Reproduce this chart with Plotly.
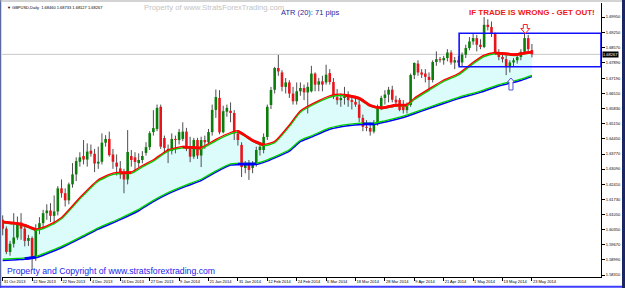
import plotly.graph_objects as go

# ---------------- data ----------------
TICK_LABELS = ["31 Oct 2013", "12 Nov 2013", "22 Nov 2013", "4 Dec 2013", "16 Dec 2013",
               "27 Dec 2013", "9 Jan 2014", "21 Jan 2014", "31 Jan 2014", "12 Feb 2014",
               "24 Feb 2014", "6 Mar 2014", "18 Mar 2014", "28 Mar 2014", "9 Apr 2014",
               "21 Apr 2014", "1 May 2014", "13 May 2014", "23 May 2014"]
BARS_PER_LABEL = 8

OPEN = [1.6080, 1.6040, 1.5935, 1.5972, 1.6000, 1.6068, 1.6040, 1.5985, 1.5998, 1.5912,
        1.6040, 1.6065, 1.6110, 1.6122, 1.6098, 1.6118, 1.6222, 1.6200, 1.6168, 1.6240,
        1.6285, 1.6342, 1.6368, 1.6352, 1.6392, 1.6378, 1.6334, 1.6342, 1.6428, 1.6445,
        1.6375, 1.6338, 1.6312, 1.6290, 1.6262, 1.6368, 1.6362, 1.6336, 1.6350, 1.6382,
        1.6408, 1.6476, 1.6490, 1.6590, 1.6449, 1.6400, 1.6390, 1.6445, 1.6440, 1.6445,
        1.6478, 1.6400, 1.6365, 1.6440, 1.6370, 1.6440, 1.6430, 1.6476, 1.6576, 1.6630,
        1.6475, 1.6568, 1.6572, 1.6562, 1.6470, 1.6418, 1.6314, 1.6336, 1.6314, 1.6336,
        1.6395, 1.6395, 1.6454, 1.6598, 1.6667, 1.6765, 1.6745, 1.6680, 1.6700, 1.6650,
        1.6615, 1.6660, 1.6675, 1.6655, 1.6660, 1.6740, 1.6690, 1.6705, 1.6700, 1.6742,
        1.6702, 1.6634, 1.6620, 1.6630, 1.6640, 1.6620, 1.6612, 1.6600, 1.6540, 1.6500,
        1.6495, 1.6478, 1.6515, 1.6590, 1.6630, 1.6645, 1.6667, 1.6622, 1.6621, 1.6590,
        1.6575, 1.6598, 1.6733, 1.6785, 1.6745, 1.6740, 1.6725, 1.6711, 1.6792, 1.6805,
        1.6800, 1.6810, 1.6835, 1.6790, 1.6800, 1.6790, 1.6825, 1.6855, 1.6885, 1.6900,
        1.6870, 1.6860, 1.6960, 1.6950, 1.6920, 1.6835, 1.6815, 1.6805, 1.6772, 1.6790,
        1.6800, 1.6815, 1.6838, 1.6900, 1.68460]
HIGH = [1.6100, 1.6050, 1.5985, 1.6110, 1.6095, 1.6110, 1.6060, 1.6012, 1.6005, 1.6060,
        1.6092, 1.6125, 1.6150, 1.6155, 1.6190, 1.6232, 1.6262, 1.6222, 1.6248, 1.6336,
        1.6362, 1.6385, 1.6440, 1.6425, 1.6420, 1.6400, 1.6410, 1.6470, 1.6462, 1.6478,
        1.6400, 1.6375, 1.6345, 1.6310, 1.6485, 1.6395, 1.6385, 1.6380, 1.6390, 1.6430,
        1.6480, 1.6575, 1.6600, 1.6600, 1.6460, 1.6420, 1.6470, 1.6460, 1.6490, 1.6520,
        1.6495, 1.6455, 1.6450, 1.6450, 1.6455, 1.6460, 1.6490, 1.6600, 1.6668, 1.6665,
        1.6595, 1.6600, 1.6610, 1.6575, 1.6485, 1.6430, 1.6345, 1.6350, 1.6345, 1.6410,
        1.6430, 1.6470, 1.6600, 1.6680, 1.6770, 1.6824, 1.6755, 1.6720, 1.6710, 1.6680,
        1.6700, 1.6700, 1.6690, 1.6700, 1.6775, 1.6745, 1.6720, 1.6730, 1.6780, 1.6760,
        1.6720, 1.6670, 1.6650, 1.6680, 1.6660, 1.6640, 1.6640, 1.6620, 1.6555, 1.6530,
        1.6520, 1.6530, 1.6600, 1.6640, 1.6665, 1.6680, 1.6685, 1.6640, 1.6630, 1.6620,
        1.6610, 1.6740, 1.6790, 1.6800, 1.6760, 1.6760, 1.6745, 1.6800, 1.6840, 1.6815,
        1.6820, 1.6850, 1.6845, 1.6815, 1.6820, 1.6835, 1.6870, 1.6905, 1.6920, 1.6915,
        1.6895, 1.6995, 1.6985, 1.6975, 1.6925, 1.6850, 1.6835, 1.6830, 1.6800, 1.6810,
        1.6830, 1.6850, 1.6925, 1.6915, 1.68733]
LOW = [1.6010, 1.5925, 1.5918, 1.5955, 1.5990, 1.5990, 1.5960, 1.5962, 1.5858, 1.5895,
       1.6015, 1.6048, 1.6080, 1.6070, 1.6060, 1.6100, 1.6180, 1.6140, 1.6150, 1.6225,
       1.6255, 1.6320, 1.6330, 1.6320, 1.6365, 1.6295, 1.6310, 1.6330, 1.6410, 1.6365,
       1.6310, 1.6280, 1.6265, 1.6200, 1.6240, 1.6320, 1.6300, 1.6318, 1.6335, 1.6370,
       1.6395, 1.6460, 1.6480, 1.6400, 1.6380, 1.6336, 1.6375, 1.6380, 1.6420, 1.6435,
       1.6390, 1.6340, 1.6355, 1.6355, 1.6318, 1.6400, 1.6420, 1.6460, 1.6540, 1.6466,
       1.6470, 1.6545, 1.6520, 1.6440, 1.6415, 1.6273, 1.6290, 1.6260, 1.6290, 1.6320,
       1.6370, 1.6380, 1.6440, 1.6580, 1.6650, 1.6730, 1.6660, 1.6650, 1.6630, 1.6600,
       1.6600, 1.6640, 1.6620, 1.6560, 1.6655, 1.6660, 1.6660, 1.6660, 1.6690, 1.6690,
       1.6625, 1.6600, 1.6590, 1.6600, 1.6590, 1.6578, 1.6590, 1.6520, 1.6480, 1.6480,
       1.6460, 1.6470, 1.6505, 1.6575, 1.6600, 1.6610, 1.6610, 1.6595, 1.6570, 1.6560,
       1.6560, 1.6590, 1.6715, 1.6730, 1.6720, 1.6700, 1.6660, 1.6700, 1.6775, 1.6790,
       1.6780, 1.6795, 1.6780, 1.6760, 1.6775, 1.6770, 1.6810, 1.6845, 1.6870, 1.6840,
       1.6850, 1.6855, 1.6935, 1.6905, 1.6825, 1.6800, 1.6790, 1.6733, 1.6745, 1.6770,
       1.6785, 1.6800, 1.6830, 1.6840, 1.68127]
CLOSE = [1.6040, 1.5935, 1.5972, 1.6000, 1.6068, 1.6040, 1.5985, 1.5998, 1.5912, 1.6040,
         1.6065, 1.6110, 1.6122, 1.6098, 1.6118, 1.6222, 1.6200, 1.6168, 1.6240, 1.6285,
         1.6345, 1.6362, 1.6352, 1.6388, 1.6378, 1.6334, 1.6342, 1.6428, 1.6445, 1.6372,
         1.6342, 1.6320, 1.6285, 1.6262, 1.6386, 1.6350, 1.6341, 1.6350, 1.6368, 1.6408,
         1.6471, 1.6494, 1.6585, 1.6410, 1.6404, 1.6390, 1.6445, 1.6440, 1.6476, 1.6478,
         1.6400, 1.6365, 1.6440, 1.6370, 1.6440, 1.6430, 1.6476, 1.6576, 1.6634, 1.6475,
         1.6570, 1.6585, 1.6562, 1.6470, 1.6440, 1.6318, 1.6336, 1.6305, 1.6336, 1.6395,
         1.6410, 1.6454, 1.6590, 1.6666, 1.6765, 1.6750, 1.6680, 1.6700, 1.6650, 1.6615,
         1.6660, 1.6675, 1.6655, 1.6680, 1.6740, 1.6690, 1.6705, 1.6690, 1.6735, 1.6702,
         1.6634, 1.6620, 1.6630, 1.6640, 1.6620, 1.6612, 1.6600, 1.6540, 1.6500, 1.6495,
         1.6478, 1.6515, 1.6590, 1.6630, 1.6645, 1.6667, 1.6622, 1.6610, 1.6576, 1.6575,
         1.6598, 1.6733, 1.6788, 1.6745, 1.6735, 1.6725, 1.6711, 1.6792, 1.6805, 1.6800,
         1.6810, 1.6835, 1.6790, 1.6800, 1.6790, 1.6825, 1.6855, 1.6885, 1.6900, 1.6870,
         1.6860, 1.6960, 1.6950, 1.6920, 1.6835, 1.6815, 1.6805, 1.6772, 1.6790, 1.6800,
         1.6815, 1.6838, 1.6900, 1.6850, 1.68267]

# fast moving average (red / green line), read at bar positions
FAST_X = [0, 3, 6, 9, 12, 16, 21, 26, 30, 32, 35, 38, 41, 45, 49, 51, 54, 58, 62, 64,
          66, 68, 71, 74, 78, 81, 86, 90, 93, 97, 100, 103, 107, 110, 112, 116, 120, 124,
          128, 131, 134, 137, 139, 142, 144]
FAST_MA = [1.6070, 1.6065, 1.6055, 1.6036, 1.6050, 1.6088, 1.6178, 1.6258, 1.6288, 1.6292,
           1.6293, 1.6322, 1.6348, 1.6393, 1.6408, 1.6407, 1.6404, 1.6440, 1.6471, 1.6479,
           1.6460, 1.6438, 1.6418, 1.6431, 1.6505, 1.6569, 1.6615, 1.6642, 1.6643, 1.6628,
           1.6596, 1.6585, 1.6597, 1.6598, 1.6626, 1.6668, 1.6708, 1.6737, 1.6788, 1.6820,
           1.6832, 1.6829, 1.6825, 1.6832, 1.6837]
FAST_DOWN = [(0, 9), (32, 35), (49, 54), (64, 71), (93, 110), (134, 144)]

# slow moving average (blue / green line)
SLOW_X = [0, 4, 6, 9, 12, 16, 21, 26, 32, 37, 41, 45, 50, 54, 58, 62, 64, 69, 72, 78,
          81, 84, 89, 94, 98, 101, 104, 108, 112, 116, 120, 124, 130, 135, 141, 144]
SLOW_MA = [1.5899, 1.5903, 1.5905, 1.5912, 1.5930, 1.5957, 1.5998, 1.6041, 1.6084, 1.6124,
           1.6165, 1.6200, 1.6235, 1.6260, 1.6298, 1.6330, 1.6332, 1.6333, 1.6348, 1.6393,
           1.6436, 1.6456, 1.6492, 1.6508, 1.6513, 1.6513, 1.6524, 1.6540, 1.6562, 1.6585,
           1.6608, 1.6630, 1.6658, 1.6687, 1.6712, 1.6729]
SLOW_FLAT = [(6, 9), (64, 69), (98, 101)]

Y_TICKS = [1.69950, 1.69250, 1.68570, 1.67890, 1.67190, 1.66510, 1.65830, 1.65150, 1.64450,
           1.63770, 1.63090, 1.62410, 1.61730, 1.61050, 1.60350, 1.59670, 1.58990, 1.58310]
BID = 1.68267
HEADER = "▼ GBPUSD,Daily  1.68460 1.68733 1.68127 1.68267"

BOX = dict(x0=124.2, y0=1.67710, y1=1.69217)      # "get out" box
ARROW_DOWN = (142.2, 1.69614)
ARROW_UP = (138.3, 1.67200)

# ---------------- figure ----------------
W, H = 625, 288
PX_L, PX_R, PX_T, PX_B = 2, 601, 3, 277
X_RANGE = [-0.19, 162.8]
Y_RANGE = [1.58220, 1.70584]

GREEN_BODY = "#0a7d0a"
RED_BODY = "#e8141c"
WICK = "#4e4e4e"
LINE_GREEN = "#00d000"
LINE_RED = "#ff0000"
LINE_BLUE = "#0000ff"
CLOUD = "#dcfcfc"
OFF = 0.0003

fig = go.Figure()

# cloud between the averages
fig.add_trace(go.Scatter(x=SLOW_X, y=SLOW_MA, mode="lines",
                         line=dict(width=0, shape="spline", smoothing=0.6, color=CLOUD),
                         hoverinfo="skip", showlegend=False))
fig.add_trace(go.Scatter(x=FAST_X, y=FAST_MA, mode="lines", fill="tonexty", fillcolor=CLOUD,
                         line=dict(width=0, shape="spline", smoothing=0.6, color=CLOUD),
                         hoverinfo="skip", showlegend=False))

# candles
n = len(OPEN)
wx, wy = [], []
gx, gy, rx, ry = [], [], [], []
for i in range(n):
    wx += [i, i, None]
    wy += [LOW[i], HIGH[i], None]
    if CLOSE[i] >= OPEN[i]:
        gx += [i, i, None]
        gy += [OPEN[i], CLOSE[i], None]
    else:
        rx += [i, i, None]
        ry += [OPEN[i], CLOSE[i], None]
fig.add_trace(go.Scatter(x=wx, y=wy, mode="lines", line=dict(width=1, color=WICK),
                         hoverinfo="skip", showlegend=False))
fig.add_trace(go.Scatter(x=gx, y=gy, mode="lines", line=dict(width=2.6, color=GREEN_BODY),
                         hoverinfo="skip", showlegend=False))
fig.add_trace(go.Scatter(x=rx, y=ry, mode="lines", line=dict(width=2.6, color=RED_BODY),
                         hoverinfo="skip", showlegend=False))


def segments(xs, ys, ranges):
    sx, sy = [], []
    for a, b in ranges:
        for x, y in zip(xs, ys):
            if a <= x <= b:
                sx.append(x)
                sy.append(y)
        sx.append(None)
        sy.append(None)
    return sx, sy


def add_line(xs, ys, color, width):
    fig.add_trace(go.Scatter(x=xs, y=ys, mode="lines", connectgaps=False,
                             line=dict(width=width, color=color, shape="spline", smoothing=0.6),
                             hoverinfo="skip", showlegend=False))


# slow average: blue with green edge, thick blue where flat
add_line(SLOW_X, [v - OFF for v in SLOW_MA], LINE_BLUE, 1.5)
add_line(SLOW_X, [v + OFF for v in SLOW_MA], LINE_GREEN, 1.3)
sx, sy = segments(SLOW_X, SLOW_MA, SLOW_FLAT)
add_line(sx, sy, LINE_BLUE, 2.6)

# fast average: green with red edge, thick red where falling
add_line(FAST_X, [v - OFF for v in FAST_MA], LINE_GREEN, 1.5)
add_line(FAST_X, [v + OFF for v in FAST_MA], LINE_RED, 1.3)
fx, fy = segments(FAST_X, FAST_MA, FAST_DOWN)
add_line(fx, fy, LINE_RED, 2.8)

tick_idx = [k * BARS_PER_LABEL for k in range(len(TICK_LABELS))]

fig.update_layout(
    template="none",
    width=W, height=H, margin=dict(l=0, r=0, t=0, b=0, pad=0, autoexpand=False),
    paper_bgcolor="white", plot_bgcolor="white", showlegend=False,
    font=dict(family="Liberation Sans, Arial, sans-serif", color="black"),
    xaxis=dict(range=X_RANGE, domain=[PX_L / W, PX_R / W], showgrid=False, zeroline=False,
               automargin=False, showline=True, linecolor="black", linewidth=1,
               ticks="outside", ticklen=3, tickcolor="black", tickwidth=1,
               tickvals=tick_idx, ticktext=TICK_LABELS, tickangle=0,
               ticklabelposition="outside right", tickfont=dict(size=4, color="black"),
               fixedrange=True),
    yaxis=dict(range=Y_RANGE, domain=[1 - PX_B / H, 1 - PX_T / H], side="right",
               automargin=False, showgrid=False, zeroline=False, showline=True,
               linecolor="black", linewidth=1, ticks="outside", ticklen=3, tickwidth=1,
               tickcolor="black", tickvals=Y_TICKS,
               ticktext=[f"{v:.5f}" for v in Y_TICKS], tickfont=dict(size=4, color="black"),
               fixedrange=True),
)

shapes = [
    # bid line
    dict(type="line", xref="x domain", yref="y", x0=0, x1=1, y0=BID, y1=BID,
         line=dict(color="#c8c8c8", width=1), layer="below"),
    # box
    dict(type="rect", xref="x", yref="y", x0=BOX["x0"], x1=X_RANGE[1], y0=BOX["y0"],
         y1=BOX["y1"], line=dict(color="#1010ff", width=1.6)),
    # arrows
    dict(type="path", xref="x", yref="y", xsizemode="pixel", ysizemode="pixel",
         xanchor=ARROW_DOWN[0], yanchor=ARROW_DOWN[1],
         path="M -2,0 L 2,0 L 2,-4 L 4.5,-4 L 0,-9 L -4.5,-4 L -2,-4 Z",
         line=dict(color="#ff2020", width=1), fillcolor="white"),
    dict(type="path", xref="x", yref="y", xsizemode="pixel", ysizemode="pixel",
         xanchor=ARROW_UP[0], yanchor=ARROW_UP[1],
         path="M 0,0 L 3.5,-4 L 2,-4 L 2,-12 L -2,-12 L -2,-4 L -3.5,-4 Z",
         line=dict(color="#5050e0", width=1), fillcolor="white"),
    # window frame
    dict(type="line", xref="paper", yref="paper", x0=0.5 / W, x1=0.5 / W, y0=0, y1=1,
         line=dict(color="#5a6aa0", width=1.5)),
    dict(type="line", xref="paper", yref="paper", x0=0, x1=1, y0=1 - 1 / H, y1=1 - 1 / H,
         line=dict(color="#a8a8a8", width=1)),
    dict(type="line", xref="paper", yref="paper", x0=0, x1=1, y0=1.2 / H, y1=1.2 / H,
         line=dict(color="#3c3cff", width=2)),
    dict(type="rect", xref="paper", yref="paper", x0=622 / W, x1=1, y0=0, y1=1,
         line=dict(width=0), fillcolor="#1c2660"),
]

annotations = [
    dict(xref="paper", yref="paper", x=5 / W, y=1 - 7 / H, xanchor="left", yanchor="middle",
         text=HEADER, showarrow=False, font=dict(size=4, color="black")),
    dict(xref="paper", yref="paper", x=142 / W, y=1 - 7.5 / H, xanchor="left", yanchor="middle",
         text="Property of www.StratsForexTrading.com", showarrow=False,
         font=dict(size=7.7, color="#c4c4c4")),
    dict(xref="paper", yref="paper", x=279 / W, y=1 - 13 / H, xanchor="left", yanchor="middle",
         text="ATR (20): 71 pips", showarrow=False, font=dict(size=7.5, color="#28289a")),
    dict(xref="paper", yref="paper", x=597 / W, y=1 - 12.7 / H, xanchor="right", yanchor="middle",
         text="<b>IF TRADE IS WRONG - GET OUT!</b>", showarrow=False,
         font=dict(size=8, color="#f01818")),
    dict(xref="paper", yref="paper", x=5 / W, y=1 - 270.7 / H, xanchor="left", yanchor="middle",
         text="Property and Copyright of www.stratsforextrading.com", showarrow=False,
         font=dict(size=8.7, color="#1c1cf0")),
    dict(xref="paper", yref="y", x=602 / W, y=BID, xanchor="left", yanchor="middle",
         text="1.68267", showarrow=False, bgcolor="black", borderpad=0,
         font=dict(size=4, color="white")),
]

fig.update_layout(shapes=shapes, annotations=annotations)
fig.write_html("out.html")
